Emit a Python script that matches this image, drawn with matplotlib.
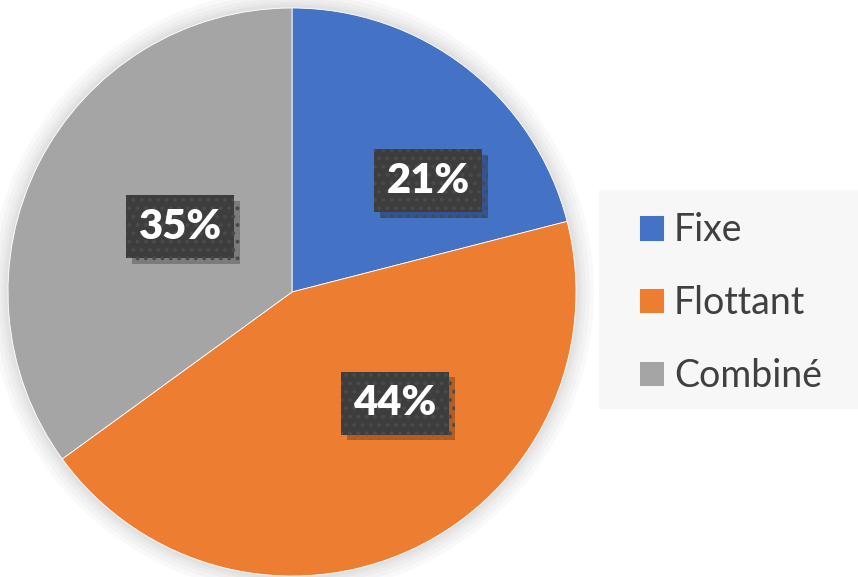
"""Pie chart: répartition Fixe / Flottant / Combiné."""

import matplotlib

matplotlib.use("Agg")

import matplotlib.pyplot as plt
import matplotlib.patheffects as pe
from matplotlib.patches import Circle, Rectangle

categories = ["Fixe", "Flottant", "Combiné"]
shares = [21, 44, 35]
colors = ["#4472C4", "#ED7D31", "#A5A5A5"]
# label centres in pie data units (radius = 1), as placed in the original
label_xy = [(0.479, 0.391), (0.363, -0.391), (-0.394, 0.229)]

plt.rcParams["font.family"] = ["Lato", "DejaVu Sans"]
plt.rcParams["hatch.linewidth"] = 1.6

fig = plt.figure(figsize=(8.58, 5.77), dpi=100, facecolor="white")
ax = fig.add_axes([8 / 858, 1 / 577, 568 / 858, 568 / 577])

# soft glow behind the pie, like the Office shape effect
glow = Circle((0, 0), 1.0, facecolor="white", edgecolor="none", zorder=0,
              clip_on=False)
glow.set_path_effects([
    pe.Stroke(linewidth=w, foreground="black", alpha=0.025) for w in (26, 20, 14, 9, 5)
] + [pe.Normal()])
ax.add_patch(glow)

wedges, _ = ax.pie(
    shares,
    colors=colors,
    startangle=90,
    counterclock=False,
    radius=1.0,
    wedgeprops={"edgecolor": "white", "linewidth": 0.6},
)
ax.set_xlim(-1, 1)
ax.set_ylim(-1, 1)
ax.set_aspect("equal")
ax.axis("off")

for value, (x, y) in zip(shares, label_xy):
    txt = ax.text(
        x,
        y,
        f"{value}%",
        ha="center",
        va="center",
        fontsize=30,
        fontweight="heavy",
        color="white",
        bbox={"boxstyle": "square,pad=0.3", "facecolor": "#3d3d3d",
              "edgecolor": "#4a4a4a", "linewidth": 0, "hatch": ".."},
    )
    # drop shadow behind the label box
    txt.get_bbox_patch().set_path_effects([
        pe.SimplePatchShadow(offset=(4, -4), shadow_rgbFace="black", alpha=0.25),
        pe.Normal(),
    ])

# legend background panel
fig.patches.append(
    Rectangle((599 / 858, 168 / 577), 259 / 858, 219 / 577,
              transform=fig.transFigure, facecolor="#f7f7f7",
              edgecolor="none", zorder=0)
)

fig.legend(
    wedges,
    categories,
    loc="center left",
    bbox_to_anchor=(620 / 858, 274 / 577),
    frameon=False,
    fontsize=27,
    labelcolor="#404040",
    handlelength=0.66,
    handleheight=0.66,
    handletextpad=0.28,
    labelspacing=0.98,
    borderpad=0,
)

fig.savefig("out.png", dpi=100, facecolor="white")
plt.close(fig)
